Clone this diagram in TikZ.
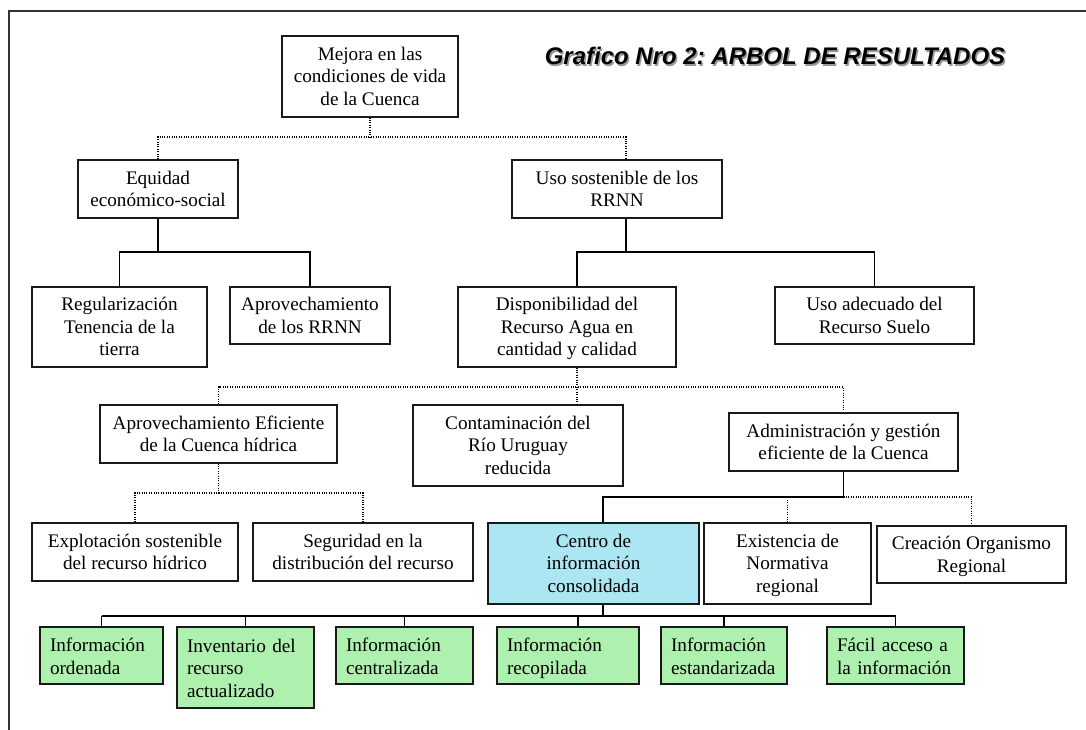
\documentclass[tikz,border=0pt]{standalone}
\usepackage{fontspec}
\setmainfont{Liberation Serif}
\newfontfamily\ttlfont{Liberation Sans}
\newcommand\bxfont{\fontsize{19.2}{22.5}\selectfont}
\newcommand\topstrut{\rule{0pt}{21.5pt}}
\definecolor{cyanfill}{HTML}{ABE6F2}
\definecolor{greenfill}{HTML}{AEF0AE}
\tikzset{
  box/.style={draw=black!90, line width=1.1pt, align=center, inner sep=0pt, font=\bxfont,
    execute at begin node=\strut, execute at end node=\strut, text depth=0.5pt},
  gbox/.style={draw=black!90, line width=1.1pt, align=left, inner xsep=10pt, inner ysep=0pt, font=\bxfont, fill=greenfill,
    execute at begin node=\topstrut, execute at end node=\strut},
  solidc/.style={line width=1.7pt},
  thinc/.style={line width=1.1pt},
  dotc/.style={line width=1.2pt, dash pattern=on 1pt off 1.4pt},
  ttl/.style={font=\ttlfont\bfseries\itshape\fontsize{24}{28}\selectfont\frenchspacing, inner sep=0pt}
}
\begin{document}
\begin{tikzpicture}[x=1pt,y=-1pt]
\useasboundingbox (0,0) rectangle (1086,730);
% frame
\coordinate (fr) at (1086,11);
\coordinate (fc) at (9,11);
\coordinate (fb) at (9,730);
\draw[line width=1.6pt, black!80] (fr) -- (fc) -- (fb);
% title
\node[ttl, text=black!40] (tshadow) at (776.5,57.5) {Grafico Nro 2: ARBOL DE RESULTADOS};
\node[ttl] (title) at (775,56) {Grafico Nro 2: ARBOL DE RESULTADOS};
% boxes
\node[box, minimum width=176pt, minimum height=81pt] (mejora) at (370,76.5) {Mejora en las\\condiciones de vida\\de la Cuenca};
\node[box, minimum width=160pt, minimum height=58pt] (equidad) at (158,189) {Equidad\\económico-social};
\node[box, minimum width=210pt, minimum height=58pt] (uso) at (617,189) {Uso sostenible de los\\RRNN};
\node[box, minimum width=175pt, minimum height=80pt] (regul) at (119.5,327) {Regularización\\Tenencia de la\\tierra};
\node[box, minimum width=160pt, minimum height=57pt] (aprov) at (310,315.5) {Aprovechamiento\\de los RRNN};
\node[box, minimum width=218pt, minimum height=80pt] (dispon) at (567,327) {Disponibilidad del\\Recurso Agua en\\cantidad y calidad};
\node[box, minimum width=199pt, minimum height=57pt] (usoadec) at (874.5,315.5) {Uso adecuado del\\Recurso Suelo};
\node[box, minimum width=237pt, minimum height=58pt] (aprovef) at (218.5,434) {Aprovechamiento Eficiente\\de la Cuenca hídrica};
\node[box, minimum width=210pt, minimum height=81pt] (contam) at (518,445.5) {Contaminación del\\Río Uruguay\\reducida};
\node[box, minimum width=229pt, minimum height=58pt] (admin) at (843.5,442) {Administración y gestión\\eficiente de la Cuenca};
\node[box, minimum width=206pt, minimum height=58pt] (explot) at (135,552) {Explotación sostenible\\del recurso hídrico};
\node[box, minimum width=220pt, minimum height=58pt] (segur) at (363,552) {Seguridad en la\\distribución del recurso};
\node[box, fill=cyanfill, minimum width=211pt, minimum height=81pt] (centro) at (593.5,563.5) {Centro de\\información\\consolidada};
\node[box, minimum width=167pt, minimum height=81pt] (exist) at (787.5,563.5) {Existencia de\\Normativa\\regional};
\node[box, minimum width=189pt, minimum height=57pt] (creac) at (971.5,554.5) {Creación Organismo\\Regional};
% green boxes
\node[gbox, text width=103pt, minimum height=57pt] (g1) at (101.5,655.5) {Información\\ordenada};
\node[gbox, text width=117pt, minimum height=81pt] (g2) at (245.5,667.5) {Inventario del\\recurso\\actualizado};
\node[gbox, text width=117pt, minimum height=57pt] (g3) at (404.5,655.5) {Información\\centralizada};
\node[gbox, text width=122pt, minimum height=57pt] (g4) at (568,655.5) {Información\\recopilada};
\node[gbox, text width=106pt, minimum height=57pt] (g5) at (724,655.5) {Información\\estandarizada};
\node[gbox, text width=117pt, minimum height=57pt] (g6) at (895.5,655.5) {Fácil acceso a\\la información};
% junctions
\coordinate (b1) at (370,137);
\coordinate (b2) at (158,252);
\coordinate (b3) at (626,252);
\coordinate (b4) at (577,387);
\coordinate (b5) at (218.5,493);
\coordinate (b6) at (843.5,497);
\coordinate (b7) at (603,616);
% connectors
\draw[dotc] (mejora.south) -- (b1);
\draw[dotc] (equidad.north) |- (b1) -| ([xshift=9pt]uso.north);
\draw[solidc] (equidad.south) -- (b2);
\draw[solidc] (regul.north) |- (b2) -| (aprov.north);
\draw[solidc] ([xshift=9pt]uso.south) -- (b3);
\draw[solidc] ([xshift=10pt]dispon.north) |- (b3) -| (usoadec.north);
\draw[dotc] ([xshift=10pt]dispon.south) -- (b4);
\draw[dotc] (aprovef.north) |- (b4) -| (admin.north);
\draw[dotc] (b4) -- (b4 |- contam.north);
\draw[dotc] (aprovef.south) -- (b5);
\draw[dotc] (explot.north) |- (b5) -| (segur.north);
\draw[solidc] (admin.south) -- (b6) -| ([xshift=9.5pt]centro.north);
\draw[dotc] (b6) -| (creac.north);
\draw[dotc] (exist.north) -- (exist.north |- b6);
\draw[solidc] ([xshift=9.5pt]centro.south) -- (b7);
\draw[solidc] (g1.north |- b7) -- (g6.north |- b7);
\draw[thinc] (g1.north) -- (g1.north |- b7);
\draw[thinc] (g2.north) -- (g2.north |- b7);
\draw[thinc] (g3.north) -- (g3.north |- b7);
\draw[thinc] ([xshift=10pt]g4.north) -- ([xshift=10pt]g4.north |- b7);
\draw[thinc] (g5.north) -- (g5.north |- b7);
\draw[thinc] (g6.north) -- (g6.north |- b7);
\end{tikzpicture}
\end{document}
